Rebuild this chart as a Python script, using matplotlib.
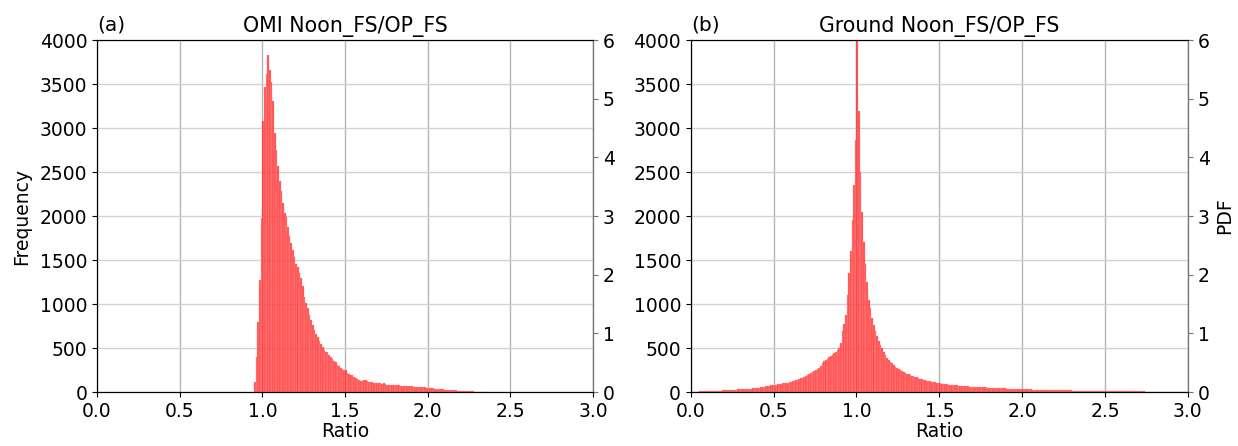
import numpy as np
import matplotlib.pyplot as plt

# histogram counts, bin width 0.01
bin_w = 0.01

# (a) OMI, bins start at 0.95
omi_start = 0.95
omi_counts = [
    110, 400, 800, 1270, 1980,
    3080, 3470, 3620, 3830, 3660, 3520, 3310, 2950, 2750, 2570,
    2400, 2280, 2150, 2040, 1990, 1880, 1770, 1690, 1610, 1540,
    1460, 1420, 1350, 1300, 1200, 1080, 1010, 960, 880, 820,
    760, 705, 665, 625, 575, 550, 515, 480, 460, 455,
    420, 400, 370, 350, 340, 310, 300, 275, 265, 250,
    245, 215, 210, 195, 190, 170, 165, 148, 140, 130,
    125, 138, 134, 120, 118, 115, 116, 108, 105, 106,
    104, 100, 97, 98, 95, 85, 82, 80, 78, 81,
    79, 77, 76, 72, 70, 68, 69, 67, 66, 68,
    65, 62, 61, 60, 59, 60, 58, 56, 55, 50,
    48, 45, 43, 42, 40, 38, 36, 33, 31, 30,
    28, 27, 25, 24, 22, 20, 19, 18, 17, 15,
    14, 13, 12, 11, 10, 9, 8, 7, 6, 5,
    5, 4, 3, 3, 2,
]

# (b) Ground, bins start at 0.00
ground_start = 0.0
ground_counts = [
    4, 5, 5, 6, 6, 7, 7, 8, 9, 9,
    10, 11, 12, 12, 13, 14, 15, 16, 17, 18,
    19, 20, 21, 22, 24, 25, 26, 27, 29, 30,
    31, 33, 34, 35, 37, 39, 40, 42, 44, 46,
    48, 50, 53, 56, 60, 64, 68, 72, 76, 79,
    82, 85, 88, 92, 95, 98, 100, 104, 108, 112,
    118, 124, 130, 136, 142, 150, 158, 165, 172, 180,
    190, 200, 212, 225, 238, 250, 262, 275, 300, 330,
    355, 365, 380, 395, 410, 425, 440, 455, 480, 505,
    560, 690, 770, 870, 1100, 1350, 1600, 1950, 2350, 2860,
    4300, 3200, 2500, 2050, 1700, 1450, 1250, 1050, 960, 840,
    760, 690, 640, 580, 530, 495, 450, 420, 390, 365,
    345, 325, 305, 285, 270, 258, 245, 238, 225, 215,
    208, 200, 192, 185, 178, 172, 166, 160, 152, 147,
    142, 136, 130, 126, 122, 118, 115, 110, 106, 103,
    100, 97, 94, 91, 88, 85, 83, 81, 79, 77,
    75, 73, 71, 70, 68, 67, 65, 64, 62, 61,
    60, 59, 58, 57, 56, 55, 54, 53, 52, 51,
    50, 49, 48, 47, 46, 45, 44, 43, 42, 41,
    40, 39, 38, 38, 37, 36, 35, 35, 34, 33,
    32, 32, 31, 30, 30, 29, 28, 28, 27, 27,
    26, 26, 25, 25, 24, 24, 23, 23, 22, 22,
    21, 21, 20, 20, 20, 19, 19, 18, 18, 18,
    17, 17, 17, 16, 16, 16, 15, 15, 15, 14,
    14, 14, 14, 13, 13, 13, 12, 12, 12, 12,
    11, 11, 11, 11, 10, 10, 10, 10, 9, 9,
    9, 9, 9, 8, 8, 8, 8, 8, 7, 7,
    7, 7, 7, 7, 6, 6, 6, 6, 6, 6,
    5, 5, 5, 5, 5, 5, 5, 4, 4, 4,
    4, 4, 4, 4, 4, 3, 3, 3, 3, 3,
]

titles = ['OMI Noon_FS/OP_FS', 'Ground Noon_FS/OP_FS']
tags = ['(a)', '(b)']
xticks = [0.0, 0.5, 1.0, 1.5, 2.0, 2.5, 3.0]
yticks = [0, 500, 1000, 1500, 2000, 2500, 3000, 3500, 4000]
pdf_ticks = [0, 1, 2, 3, 4, 5, 6]

plt.rcParams['font.size'] = 13.5

fig = plt.figure(figsize=(12.38, 4.46), dpi=100)
boxes = [[0.0784, 0.121, 0.4006, 0.789], [0.558, 0.121, 0.4015, 0.789]]
series = [(omi_start, omi_counts), (ground_start, ground_counts)]

for i in range(2):
    ax = fig.add_axes(boxes[i])
    start, counts = series[i]
    left = start + bin_w * np.arange(len(counts))
    ax.bar(left, counts, width=bin_w, align='edge', color='#ff2020', alpha=0.8,
           edgecolor='#ff9a9a', linewidth=0.3, zorder=2)
    ax.set_xlim(0, 3)
    ax.set_ylim(0, 4000)
    ax.set_xticks(xticks)
    ax.set_yticks(yticks)
    ax.xaxis.grid(True, color='#b4b4b4', linewidth=1.0, zorder=0)
    ax.yaxis.grid(True, color='#d2d2d2', linewidth=1.0, zorder=0)
    ax.set_axisbelow(True)
    ax.set_xlabel('Ratio', labelpad=1)
    ax.set_title(titles[i], pad=6, fontsize=14.8)
    ax.text(0.0, 1.015, tags[i], transform=ax.transAxes, ha='left', va='bottom',
            fontsize=14.5)
    if i == 0:
        ax.set_ylabel('Frequency', labelpad=6)

    # PDF scale on the right
    ax2 = ax.twinx()
    ax2.set_ylim(0, 6)
    ax2.set_yticks(pdf_ticks)
    ax2.spines['right'].set_color('0.45')
    ax2.tick_params(axis='y', colors='0.45', labelcolor='black')
    if i == 1:
        ax2.set_ylabel('PDF')

fig.savefig('out.png', dpi=100)
